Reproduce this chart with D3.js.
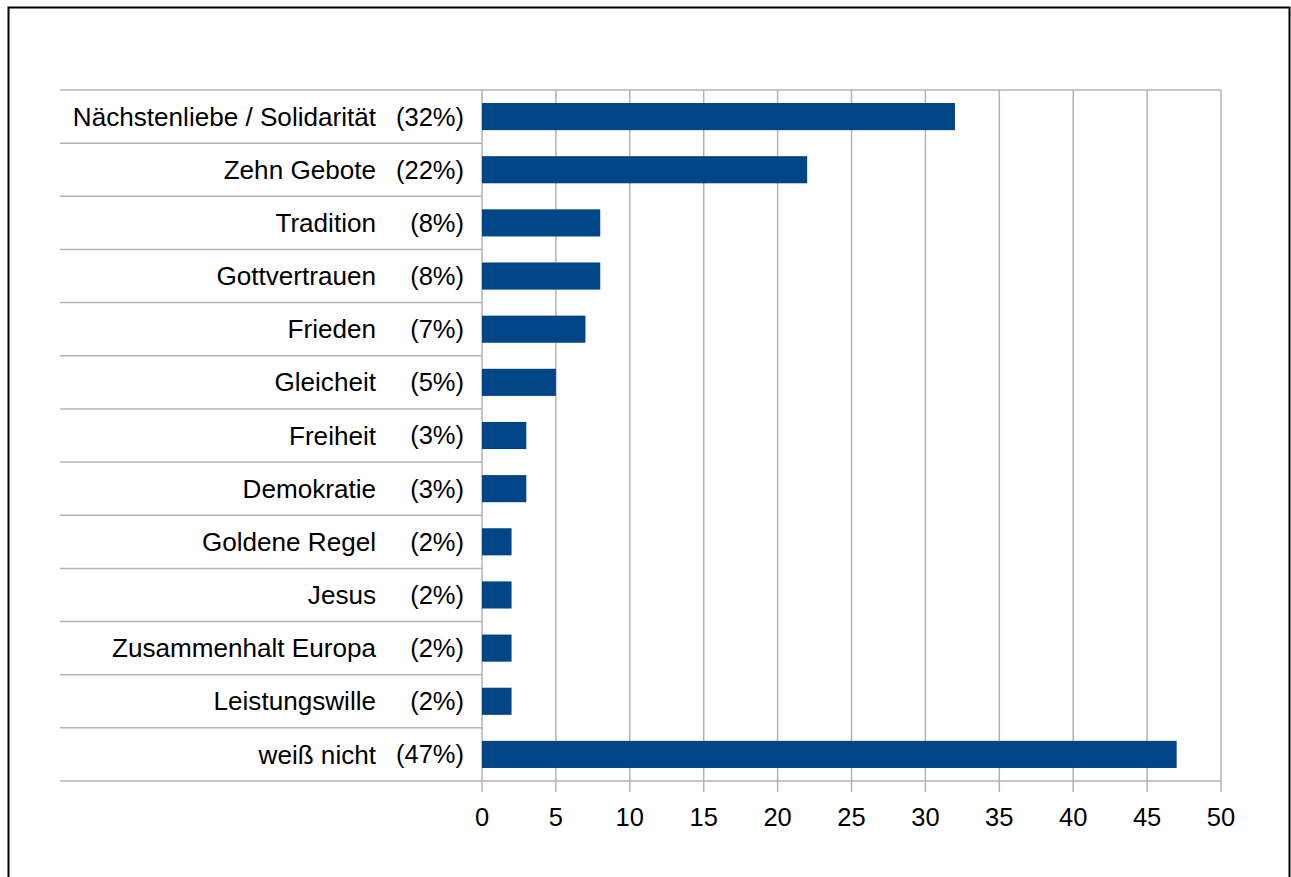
<!DOCTYPE html>
<html>
<head>
<meta charset="utf-8">
<script src="https://cdn.jsdelivr.net/npm/d3@7"></script>
<style>
  html, body { margin: 0; padding: 0; background: #fff; }
  svg { display: block; }
  text { font-family: "Liberation Sans", Arial, sans-serif; fill: #000; }
</style>
</head>
<body>
<script>
// Survey answers, one bar per answer
const categories = [
  "Nächstenliebe / Solidarität", "Zehn Gebote", "Tradition", "Gottvertrauen",
  "Frieden", "Gleicheit", "Freiheit", "Demokratie", "Goldene Regel",
  "Jesus", "Zusammenhalt Europa", "Leistungswille", "weiß nicht"
];
const percentLabels = [
  "(32%)", "(22%)", "(8%)", "(8%)", "(7%)", "(5%)", "(3%)", "(3%)",
  "(2%)", "(2%)", "(2%)", "(2%)", "(47%)"
];
const values = [32, 22, 8, 8, 7, 5, 3, 3, 2, 2, 2, 2, 47];
const tickValues = [0, 5, 10, 15, 20, 25, 30, 35, 40, 45, 50];

const W = 1291, H = 877;
const plot = { left: 482, right: 1221, top: 90, bottom: 781 };
const labelLeft = 60;
const gridColor = "#b3b3b3";
const barColor = "#004586";
const fontSize = 25.5;
const catFontSize = 26.1;

const svg = d3.select("body").append("svg").attr("width", W).attr("height", H);

// outer frame (open at the bottom edge of the page)
svg.append("rect")
  .attr("x", 8.5).attr("y", 7.5)
  .attr("width", 1281).attr("height", 900)
  .attr("fill", "none").attr("stroke", "#000").attr("stroke-width", 2);

const x = d3.scaleLinear().domain([0, 50]).range([plot.left, plot.right]);
const y = d3.scaleBand().domain(d3.range(categories.length))
  .range([plot.top, plot.bottom]).paddingInner(0.49).paddingOuter(0.245);
const rows = d3.scaleBand().domain(d3.range(categories.length))
  .range([plot.top, plot.bottom]);

// vertical gridlines, extended below the plot as tick marks
const g = svg.append("g").attr("transform", `translate(0,${plot.bottom + 11})`);
g.selectAll(".tick").data(x.ticks(10).filter(t => tickValues.includes(t))).enter().append("line")
  .attr("x1", d => x(d)).attr("x2", d => x(d))
  .attr("y1", plot.top - plot.bottom - 11).attr("y2", 0)
  .attr("stroke", gridColor).attr("stroke-width", 1.5);

// row separators in the label area, plus top and bottom frame lines
const sepY = d3.range(categories.length + 1).map(i => i < categories.length ? rows(i) : plot.bottom);
svg.selectAll(".sep").data(sepY).enter().append("line")
  .attr("x1", labelLeft)
  .attr("x2", (d, i) => (i === 0 || i === categories.length) ? plot.right : plot.left)
  .attr("y1", d => d).attr("y2", d => d)
  .attr("stroke", gridColor).attr("stroke-width", 1.5);

// bars
svg.selectAll(".bar").data(values).enter().append("rect")
  .attr("x", x(0))
  .attr("y", (d, i) => y(i))
  .attr("width", d => x(d) - x(0))
  .attr("height", y.bandwidth())
  .attr("fill", barColor);

// category labels
svg.selectAll(".cat").data(categories).enter().append("text")
  .attr("x", 376)
  .attr("y", (d, i) => rows(i) + rows.bandwidth() / 2)
  .attr("dy", "0.35em")
  .attr("text-anchor", "end")
  .style("font-size", catFontSize + "px")
  .text(d => d);

// percentage labels
svg.selectAll(".pct").data(percentLabels).enter().append("text")
  .attr("x", 464)
  .attr("y", (d, i) => rows(i) + rows.bandwidth() / 2)
  .attr("dy", "0.35em")
  .attr("text-anchor", "end")
  .style("font-size", fontSize + "px")
  .text(d => d);

// tick labels
svg.selectAll(".tl").data(tickValues).enter().append("text")
  .attr("x", d => x(d))
  .attr("y", 826)
  .attr("text-anchor", "middle")
  .style("font-size", fontSize + "px")
  .text(d => d);
</script>
</body>
</html>
